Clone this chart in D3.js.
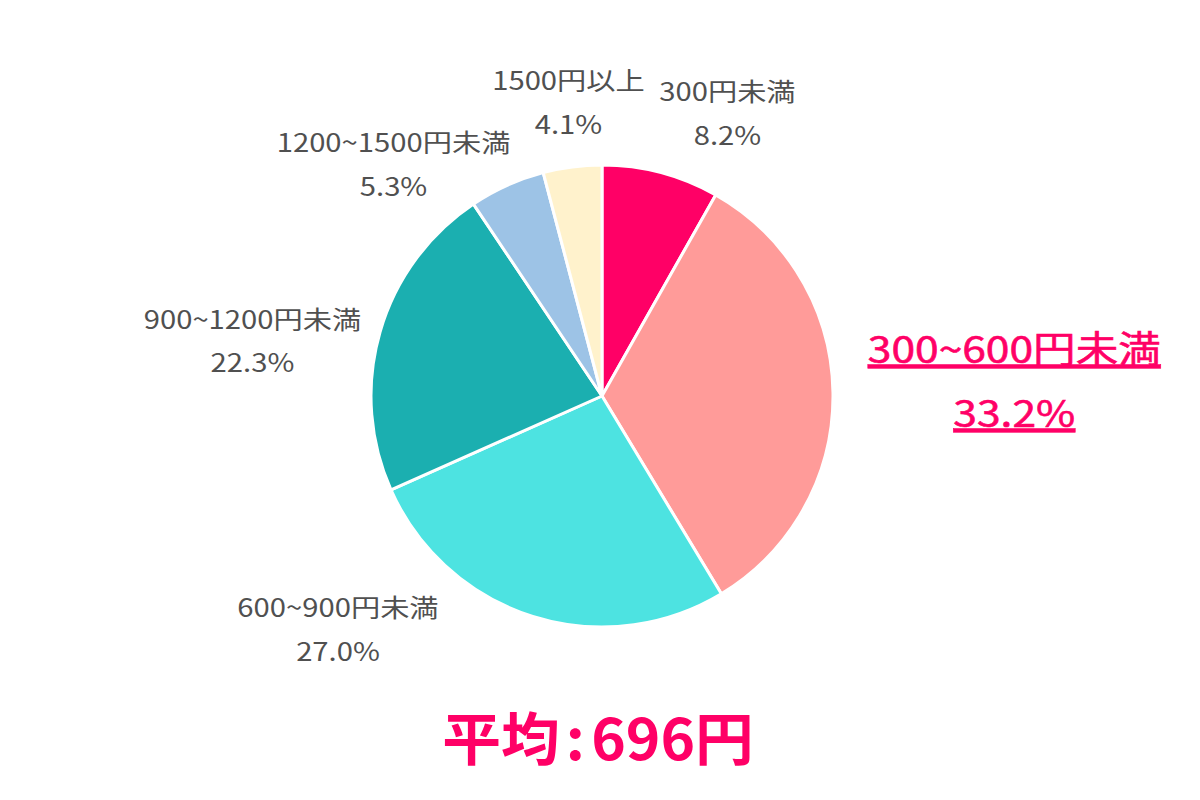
<!DOCTYPE html>
<html>
<head>
<meta charset="utf-8">
<script src="https://cdn.jsdelivr.net/npm/d3@7"></script>
<style>
  body { margin: 0; background: #fff; }
  text { font-family: "Noto Sans CJK JP", "Noto Sans", sans-serif; }
</style>
</head>
<body>
<script>
// データ
var categories = ["300円未満", "300~600円未満", "600~900円未満", "900~1200円未満", "1200~1500円未満", "1500円以上"];
var shares = [8.2, 33.2, 27.0, 22.3, 5.3, 4.1];
var colors = ["#ff0066", "#ff9b99", "#4de3e1", "#1bafb0", "#9dc3e6", "#fff2cc"];
var highlight = 1; // 300~600円未満
var averageParts = ["平均", ":", "696円"];

// ラベル位置の微調整 (centroid からのずれ)
var labelNudge = [[49, 9], [112, -10], [-174, -52], [-61, 29], [-85, 43], [5, 5]];

var W = 1200, H = 800;
var cx = 602, cy = 396, R = 231;

var svg = d3.select("body").append("svg")
  .attr("width", W).attr("height", H);

var pie = d3.pie().sort(null).value(function(d){ return d; });
var arcs = pie(shares);

var arc = d3.arc().innerRadius(0).outerRadius(R);
var labelArc = d3.arc().innerRadius(R * 1.3).outerRadius(R * 1.3);

var g = svg.append("g").attr("transform", "translate(" + cx + "," + cy + ")");

g.selectAll("path.slice")
  .data(arcs)
  .enter().append("path")
  .attr("class", "slice")
  .attr("d", arc)
  .attr("fill", function(d, i){ return colors[i]; })
  .attr("stroke", "#fff")
  .attr("stroke-width", 3)
  .attr("stroke-linejoin", "round");

// ラベル (元画像は横に少し伸びているので scale で合わせる)
arcs.forEach(function(d, i){
  var c = labelArc.centroid(d);
  var x = c[0] + labelNudge[i][0];
  var y = c[1] + labelNudge[i][1];
  var big = (i == highlight);
  var gap = big ? 32 : 22;
  var lg = g.append("g")
    .attr("transform", "translate(" + x + "," + y + ") scale(" + (big ? 1.15 : 1.17) + ",1)");
  var t = lg.append("text")
    .attr("text-anchor", "middle")
    .attr("fill", big ? "#ff0066" : "#505050")
    .attr("stroke", big ? "#ff0066" : null)
    .attr("stroke-width", big ? 0.6 : null)
    .attr("font-size", big ? 37 : 25)
    .style("text-decoration", big ? "underline" : null);
  t.append("tspan").attr("x", 0).attr("y", -gap).attr("dy", "0.35em")
    .text(categories[i]);
  t.append("tspan").attr("x", 0).attr("y", gap).attr("dy", "0.35em")
    .text(d3.format(".1f")(shares[i]) + "%");
});

// 平均
var avg = svg.append("g")
  .attr("transform", "translate(598,740) scale(1.03,1)")
  .append("text")
  .attr("y", 0)
  .attr("dy", "0.35em")
  .attr("text-anchor", "middle")
  .attr("fill", "#ff0066")
  .attr("font-size", 57)
  .attr("font-weight", "bold");
avg.selectAll("tspan")
  .data(averageParts)
  .enter().append("tspan")
  .attr("dx", function(d, i){ return i == 0 ? 0 : 6; })
  .text(function(d){ return d; });
</script>
</body>
</html>
